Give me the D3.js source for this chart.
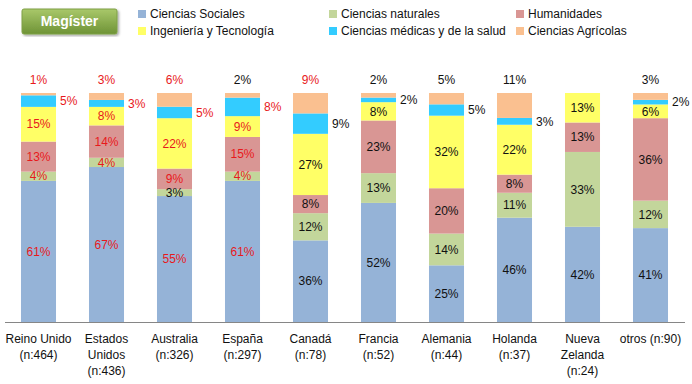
<!DOCTYPE html>
<html>
<head>
<meta charset="utf-8">
<script src="https://cdn.jsdelivr.net/npm/d3@7"></script>
<style>
  body { margin: 0; background: #fff; }
  text { font-family: "Liberation Sans", Arial, sans-serif; }
</style>
</head>
<body>
<svg width="692" height="384"></svg>
<script>
// categories and their axis labels (one entry per line)
const categories = ["Reino Unido", "Estados Unidos", "Australia", "España", "Canadá",
  "Francia", "Alemania", "Holanda", "Nueva Zelanda", "otros"]
const tickLines = [
  ["Reino Unido", "(n:464)"], ["Estados", "Unidos", "(n:436)"], ["Australia", "(n:326)"],
  ["España", "(n:297)"], ["Canadá", "(n:78)"], ["Francia", "(n:52)"], ["Alemania", "(n:44)"],
  ["Holanda", "(n:37)"], ["Nueva", "Zelanda", "(n:24)"], ["otros (n:90)"]
]
const seriesNames = ["Ciencias Sociales", "Ciencias naturales", "Humanidades",
  "Ingeniería y Tecnología", "Ciencias médicas y de la salud", "Ciencias Agrícolas"]

const sociales    = [61, 67, 55, 61, 36, 52, 25, 46, 42, 41]
const naturales   = [4, 4, 3, 4, 12, 13, 14, 11, 33, 12]
const humanidades = [13, 14, 9, 15, 8, 23, 20, 8, 13, 36]
const ingenieria  = [15, 8, 22, 9, 27, 8, 32, 22, 13, 6]
const medicas     = [5, 3, 5, 8, 9, 2, 5, 3, 0, 2]
const agricolas   = [1, 3, 6, 2, 9, 2, 5, 11, 0, 3]

// labels drawn in red: "categoryIndex-seriesIndex"
const redLabels = [
  "0-0","0-1","0-2","0-3","0-4","0-5",
  "1-0","1-1","1-2","1-3","1-4","1-5",
  "2-0","2-2","2-3","2-4","2-5",
  "3-0","3-1","3-2","3-3","3-4",
  "4-5"
]

const colors = ["#95B3D7", "#C3D69B", "#D99694", "#FFFF66", "#33CCFF", "#FAC090"]

const allSeries = [sociales, naturales, humanidades, ingenieria, medicas, agricolas]
const rows = categories.map((c, i) => {
  const r = {cat: c, idx: i}
  seriesNames.forEach((s, j) => { r[s] = allSeries[j][i] })
  return r
})

const svg = d3.select("svg")

const x = d3.scaleBand().domain(categories).range([4.5, 684.5])
  .paddingInner(0.485).paddingOuter(0.2425)
const y = d3.scaleLinear().domain([0, 1]).range([322, 93])

const stacked = d3.stack().keys(seriesNames).offset(d3.stackOffsetExpand)(rows)

const layers = svg.append("g").selectAll("g")
  .data(stacked)
  .enter().append("g")
  .attr("fill", (d, i) => colors[i])

layers.selectAll("rect")
  .data(d => d)
  .enter().append("rect")
  .attr("x", d => x(d.data.cat))
  .attr("width", x.bandwidth())
  .attr("y", d => y(d[1]))
  .attr("height", d => y(d[0]) - y(d[1]))

// value labels
const labels = []
stacked.forEach((layer, j) => {
  layer.forEach(d => {
    const v = d.data[seriesNames[j]]
    if (!v) return
    const i = d.data.idx
    let lx = x(d.data.cat) + x.bandwidth() / 2
    let ly = (y(d[0]) + y(d[1])) / 2
    let anchor = "middle"
    if (j === 5) { ly = y(1) - 13 }
    else if (j === 4) { lx = x(d.data.cat) + x.bandwidth() + 4; anchor = "start" }
    labels.push({text: v + "%", x: lx, y: ly, anchor: anchor,
      red: redLabels.includes(i + "-" + j)})
  })
})

svg.append("g").selectAll("text")
  .data(labels)
  .enter().append("text")
  .attr("x", d => d.x)
  .attr("y", d => d.y)
  .attr("dy", "0.35em")
  .attr("text-anchor", d => d.anchor)
  .attr("font-size", 12)
  .attr("fill", d => d.red ? "#E8191C" : "#111")
  .text(d => d.text)

// x axis
const xAxis = svg.append("g")
  .attr("transform", "translate(0,322)")
  .call(d3.axisBottom(x).tickSize(0).tickSizeOuter(0).tickFormat(""))
xAxis.select(".domain").attr("stroke", "#868686")
xAxis.selectAll(".tick text").remove()
xAxis.selectAll(".tick").append("text")
  .attr("fill", "#111")
  .attr("font-size", 12)
  .attr("text-anchor", "middle")
  .selectAll("tspan")
  .data((d, i) => tickLines[i])
  .enter().append("tspan")
  .attr("x", 0)
  .attr("y", (d, k) => 21 + k * 16)
  .text(d => d)

// legend
const legendPos = [[138, 14], [329, 14], [516, 14], [138, 31], [329, 31], [516, 31]]
const legend = svg.append("g").selectAll("g")
  .data(seriesNames)
  .enter().append("g")
  .attr("transform", (d, i) => "translate(" + legendPos[i][0] + "," + legendPos[i][1] + ")")
legend.append("rect")
  .attr("x", 0).attr("y", -4).attr("width", 8).attr("height", 8)
  .attr("fill", (d, i) => colors[i])
legend.append("text")
  .attr("x", 12).attr("dy", "0.35em")
  .attr("font-size", 12)
  .attr("fill", "#111")
  .text(d => d)

// title badge
const defs = svg.append("defs")
const grad = defs.append("linearGradient").attr("id", "badge")
  .attr("x1", 0).attr("y1", 0).attr("x2", 0).attr("y2", 1)
grad.append("stop").attr("offset", "0%").attr("stop-color", "#A9C86A")
grad.append("stop").attr("offset", "100%").attr("stop-color", "#6E9336")
defs.append("filter").attr("id", "shadow")
  .append("feDropShadow").attr("dx", 1.5).attr("dy", 1.5).attr("stdDeviation", 1)
  .attr("flood-color", "#000").attr("flood-opacity", 0.35)

svg.append("rect")
  .attr("x", 22).attr("y", 9).attr("width", 95).attr("height", 25)
  .attr("rx", 2)
  .attr("fill", "url(#badge)")
  .attr("stroke", "#7FA046")
  .attr("filter", "url(#shadow)")
svg.append("text")
  .attr("x", 69.5).attr("y", 21.5).attr("dy", "0.35em")
  .attr("text-anchor", "middle")
  .attr("font-size", 14)
  .attr("font-weight", "bold")
  .attr("fill", "#fff")
  .text("Magíster")
</script>
</body>
</html>
